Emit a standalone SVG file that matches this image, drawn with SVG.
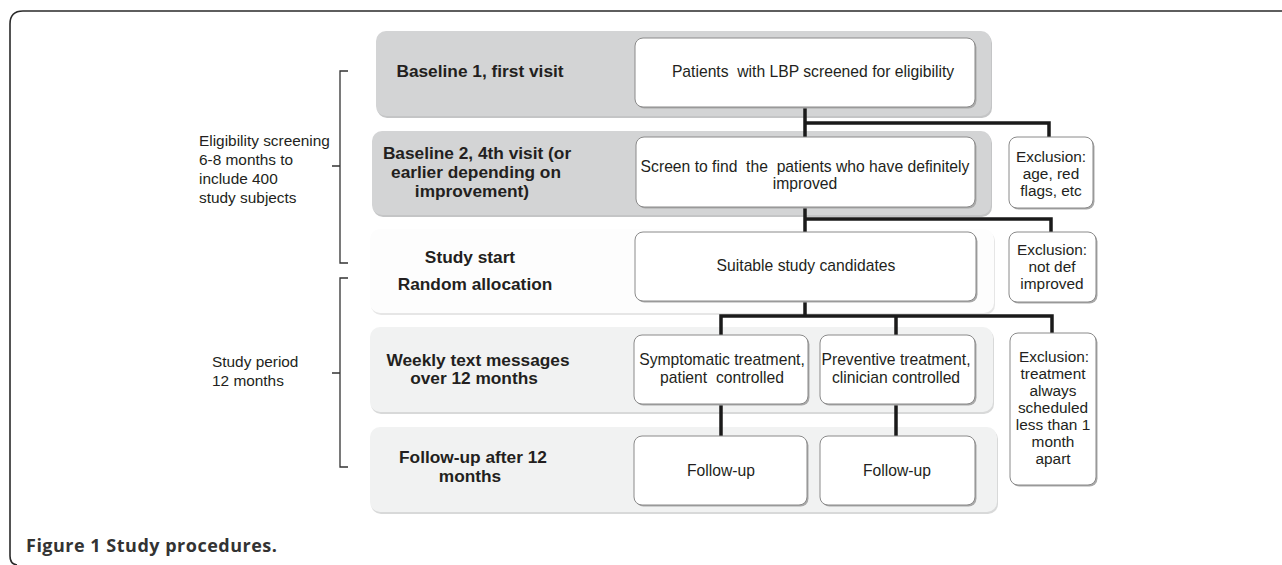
<svg xmlns="http://www.w3.org/2000/svg" width="1282" height="565" viewBox="0 0 1282 565">
<style>
  .frame{fill:none;stroke:#2a2a2a;stroke-width:1.6}
  .brace{fill:none;stroke:#333;stroke-width:1.3}
  .side{font-family:"Liberation Sans",Arial,sans-serif;font-size:15.4px;fill:#231f20}
  .lbl{font-family:"Liberation Sans",Arial,sans-serif;font-size:17.3px;font-weight:bold;fill:#231f20;text-anchor:middle}
  .txt{font-family:"Liberation Sans",Arial,sans-serif;font-size:15.7px;fill:#231f20;text-anchor:middle}
  .exc{font-family:"Liberation Sans",Arial,sans-serif;font-size:15.4px;fill:#231f20;text-anchor:middle}
  .cap{font-family:"Open Sans","Liberation Sans",sans-serif;font-size:18px;font-weight:bold;letter-spacing:0.5px;fill:#333}
  .bandD{fill:#d3d4d5}
  .bandW{fill:#fdfdfd}
  .bandL{fill:#f1f2f2}
  .bsh{fill:#c4c5c6}
  .box{fill:#fff;stroke:#8a8a8a;stroke-width:1}
  .shd{fill:#a9a9a9}
  .conn{fill:none;stroke:#1a1a1a;stroke-width:3.5;stroke-linejoin:miter}
</style>

<path class="frame" d="M 1282 11 L 23 11 Q 10 11 10 24 L 10 556 Q 10 564 17 565"/>

<g id="brace-eligibility">
  <path class="brace" d="M 348 71 L 340 71 L 340 263 L 348 263 M 340 166 L 332 166"/>
  <text class="side" x="199" y="146">Eligibility screening</text>
  <text class="side" x="199" y="165">6-8 months to</text>
  <text class="side" x="199" y="184">include 400</text>
  <text class="side" x="199" y="203">study subjects</text>
</g>
<g id="brace-study">
  <path class="brace" d="M 348 278 L 340 278 L 340 467 L 348 467 M 340 373 L 332 373"/>
  <text class="side" x="212" y="367">Study period</text>
  <text class="side" x="212" y="386">12 months</text>
</g>

<g id="row1">
  <rect class="bsh" x="377" y="33" width="615" height="85" rx="10"/>
  <rect class="bandD" x="376" y="31" width="615" height="85" rx="10"/>
  <text class="lbl" x="480" y="77">Baseline 1, first visit</text>
</g>
<g id="row2">
  <rect class="bsh" x="373" y="133" width="619" height="84" rx="10"/>
  <rect class="bandD" x="372" y="131" width="619" height="84" rx="10"/>
  <text class="lbl" x="477" y="159">Baseline 2, 4th visit (or</text>
  <text class="lbl" x="476" y="178">earlier depending on</text>
  <text class="lbl" x="472" y="197">improvement)</text>
</g>
<g id="row3">
  <rect fill="#e6e6e6" x="371" y="231" width="624" height="84" rx="10"/>
  <rect class="bandW" x="370" y="229" width="624" height="84" rx="10"/>
  <text class="lbl" x="470" y="263">Study start</text>
  <text class="lbl" x="475" y="290">Random allocation</text>
</g>
<g id="row4">
  <rect fill="#d8d9d9" x="371" y="329" width="623" height="85" rx="10"/>
  <rect class="bandL" x="370" y="327" width="623" height="85" rx="10"/>
  <text class="lbl" x="478" y="366">Weekly text messages</text>
  <text class="lbl" x="474" y="384">over 12 months</text>
</g>
<g id="row5">
  <rect fill="#d8d9d9" x="371" y="429" width="627" height="85" rx="10"/>
  <rect class="bandL" x="370" y="427" width="627" height="85" rx="10"/>
  <text class="lbl" x="473" y="463">Follow-up after 12</text>
  <text class="lbl" x="470" y="482">months</text>
</g>

<g id="connectors">
  <path class="conn" d="M 805 107 L 805 137 M 805 123 L 1049 123 L 1049 137"/>
  <path class="conn" d="M 805 207 L 805 232 M 805 219 L 1051 219 L 1051 232"/>
  <path class="conn" d="M 805 301 L 805 316 M 721 335 L 721 316 L 1052 316 L 1052 333 M 896 316 L 896 335"/>
  <path class="conn" d="M 721 404 L 721 436"/>
  <path class="conn" d="M 896 404 L 896 436"/>
</g>

<g id="boxA">
  <rect class="shd" x="636.5" y="39.5" width="340" height="69" rx="8"/>
  <rect class="box" x="635" y="38" width="340" height="69" rx="8"/>
  <text class="txt" x="813" y="77" xml:space="preserve">Patients  with LBP screened for eligibility</text>
</g>
<g id="boxB">
  <rect class="shd" x="637.5" y="138.5" width="339" height="70" rx="8"/>
  <rect class="box" x="636" y="137" width="339" height="70" rx="8"/>
  <text class="txt" x="805" y="172" xml:space="preserve">Screen to find  the  patients who have definitely</text>
  <text class="txt" x="805" y="189">improved</text>
</g>
<g id="boxC">
  <rect class="shd" x="636.5" y="233.5" width="341" height="69" rx="8"/>
  <rect class="box" x="635" y="232" width="341" height="69" rx="8"/>
  <text class="txt" x="806" y="271">Suitable study candidates</text>
</g>
<g id="boxD">
  <rect class="shd" x="635.5" y="336.5" width="174" height="69" rx="8"/>
  <rect class="box" x="634" y="335" width="174" height="69" rx="8"/>
  <text class="txt" x="722" y="365">Symptomatic treatment,</text>
  <text class="txt" x="722" y="383" xml:space="preserve">patient  controlled</text>
</g>
<g id="boxE">
  <rect class="shd" x="821.5" y="336.5" width="155" height="69" rx="8"/>
  <rect class="box" x="820" y="335" width="155" height="69" rx="8"/>
  <text class="txt" x="896" y="365">Preventive treatment,</text>
  <text class="txt" x="896" y="383">clinician controlled</text>
</g>
<g id="boxF">
  <rect class="shd" x="635.5" y="437.5" width="173" height="69" rx="8"/>
  <rect class="box" x="634" y="436" width="173" height="69" rx="8"/>
  <text class="txt" x="721" y="476">Follow-up</text>
</g>
<g id="boxG">
  <rect class="shd" x="821.5" y="437.5" width="155" height="69" rx="8"/>
  <rect class="box" x="820" y="436" width="155" height="69" rx="8"/>
  <text class="txt" x="897" y="476">Follow-up</text>
</g>

<g id="excl1">
  <rect class="shd" x="1010.5" y="138.5" width="84" height="71" rx="8"/>
  <rect class="box" x="1009" y="137" width="84" height="71" rx="8"/>
  <text class="exc" x="1051" y="162">Exclusion:</text>
  <text class="exc" x="1051" y="179">age, red</text>
  <text class="exc" x="1051" y="196">flags, etc</text>
</g>
<g id="excl2">
  <rect class="shd" x="1010.5" y="233.5" width="87" height="70" rx="8"/>
  <rect class="box" x="1009" y="232" width="87" height="70" rx="8"/>
  <text class="exc" x="1052" y="255">Exclusion:</text>
  <text class="exc" x="1052" y="272">not def</text>
  <text class="exc" x="1052" y="289">improved</text>
</g>
<g id="excl3">
  <rect class="shd" x="1011.5" y="334.5" width="86" height="152" rx="8"/>
  <rect class="box" x="1010" y="333" width="86" height="152" rx="8"/>
  <text class="exc" x="1054" y="362">Exclusion:</text>
  <text class="exc" x="1053" y="379">treatment</text>
  <text class="exc" x="1053" y="396">always</text>
  <text class="exc" x="1053" y="413">scheduled</text>
  <text class="exc" x="1053" y="430">less than 1</text>
  <text class="exc" x="1053" y="447">month</text>
  <text class="exc" x="1053" y="464">apart</text>
</g>

<text class="cap" x="26" y="552">Figure 1 Study procedures.</text>
</svg>
